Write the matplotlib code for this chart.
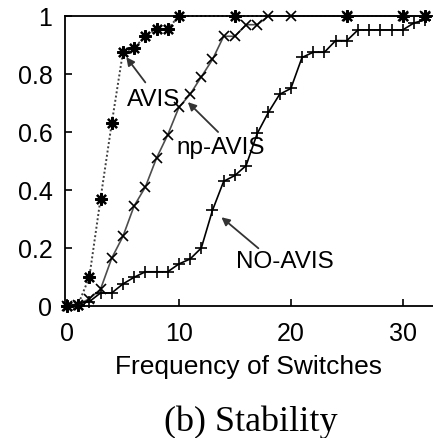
import matplotlib.pyplot as plt

# CDF of switch frequency for the three schemes
avis_x = [0, 1, 2, 3, 4, 5, 6, 7, 8, 9, 10, 15, 25, 30, 32]
avis_y = [0, 0.005, 0.10, 0.37, 0.63, 0.875, 0.89, 0.93, 0.955, 0.955, 1.0, 1.0, 1.0, 1.0, 1.0]

npavis_x = [0, 1, 2, 3, 4, 5, 6, 7, 8, 9, 10, 11, 12, 13, 14, 15, 16, 17, 18, 20, 25, 30, 32]
npavis_y = [0, 0.005, 0.025, 0.058, 0.165, 0.24, 0.345, 0.41, 0.51, 0.59, 0.685, 0.73,
            0.79, 0.85, 0.93, 0.93, 0.97, 0.97, 1.0, 1.0, 1.0, 1.0, 1.0]

noavis_x = [0, 2, 3, 4, 5, 6, 7, 8, 9, 10, 11, 12, 13, 14, 15, 16, 17, 18, 19, 20, 21, 22,
            23, 24, 25, 26, 27, 28, 29, 30, 31, 32]
noavis_y = [0, 0.015, 0.045, 0.045, 0.076, 0.099, 0.118, 0.118, 0.118, 0.145, 0.162, 0.20,
            0.33, 0.43, 0.45, 0.484, 0.595, 0.668, 0.73, 0.75, 0.857, 0.875, 0.875, 0.915,
            0.915, 0.952, 0.952, 0.952, 0.952, 0.952, 0.976, 0.987]

xticks = [0, 10, 20, 30]
yticks = [0, 0.2, 0.4, 0.6, 0.8, 1]
ytick_labels = ['0', '0.2', '0.4', '0.6', '0.8', '1']

plt.rcParams['font.family'] = ['Liberation Sans', 'DejaVu Sans']

fig = plt.figure(figsize=(4.33, 4.39), dpi=100)
ax = fig.add_axes([0.150, 0.3007, 0.85, 0.6606])

ax.plot(avis_x, avis_y, linestyle=(0, (1, 1.2)), color='0.25', lw=1.4,
        marker=(8, 2, 0), ms=9, mec='black', mew=1.6, clip_on=False)
ax.plot(npavis_x, npavis_y, linestyle='-', color='0.3', lw=1.2,
        marker='x', ms=7, mec='black', mew=1.2, clip_on=False)
ax.plot(noavis_x, noavis_y, linestyle='-', color='black', lw=1.2,
        marker='+', ms=9, mec='black', mew=1.2, clip_on=False)

ax.set_xlim(-0.18, 32.7)
ax.set_ylim(0, 1)
ax.set_xticks(xticks)
ax.set_yticks(yticks)
ax.set_yticklabels(ytick_labels)
ax.tick_params(direction='in', length=5, width=1.2, labelsize=18)
ax.tick_params(axis='x', pad=11)
ax.tick_params(axis='y', pad=9)
ax.spines['right'].set_visible(False)
for s in ['left', 'bottom', 'top']:
    ax.spines[s].set_linewidth(1.3)

ax.set_xlabel('Frequency of Switches', fontsize=19, labelpad=6)

# labels and their arrows
arrow = dict(arrowstyle='-|>', color='0.2', lw=1.3, mutation_scale=12,
             shrinkA=0, shrinkB=0)
ax.annotate('', xy=(5.3, 0.858), xytext=(7.0, 0.771), arrowprops=arrow)
ax.annotate('', xy=(10.8, 0.703), xytext=(13.5, 0.60), arrowprops=arrow)
ax.annotate('', xy=(13.8, 0.306), xytext=(17.1, 0.199), arrowprops=arrow)
ax.text(7.72, 0.714, 'AVIS', fontsize=17.5, ha='center', va='center')
ax.text(13.75, 0.548, 'np-AVIS', fontsize=17.5, ha='center', va='center')
ax.text(19.46, 0.155, 'NO-AVIS', fontsize=17.5, ha='center', va='center')

fig.text(0.58, 0.038, '(b) Stability', fontsize=26, family='Liberation Serif',
         ha='center', va='center')

fig.savefig('out.png', dpi=100)
